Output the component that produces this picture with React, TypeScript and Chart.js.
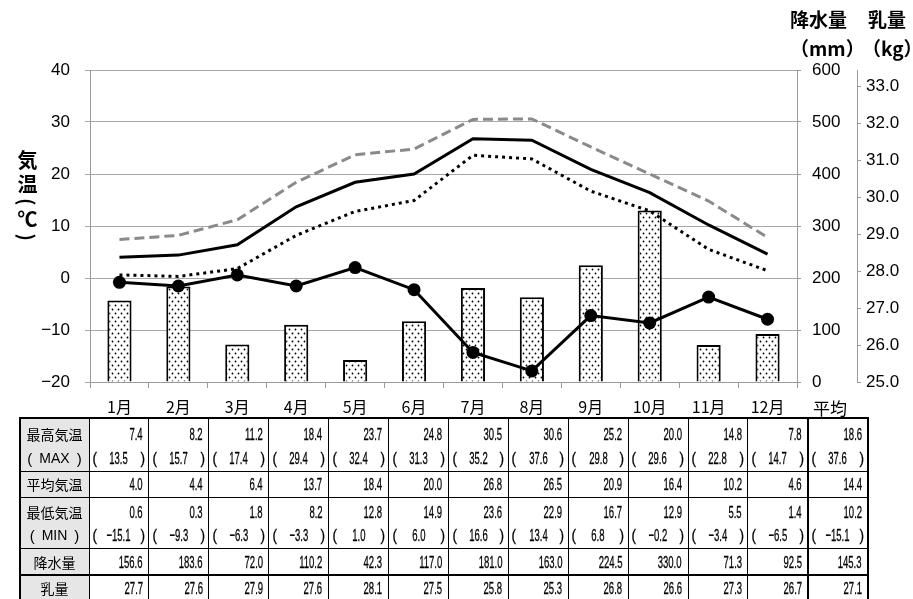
import React, { useEffect, useRef } from 'react';
import { Chart, registerables } from 'chart.js';

Chart.register(...registerables);

// ---- data ----
const months = ['1月', '2月', '3月', '4月', '5月', '6月', '7月', '8月', '9月', '10月', '11月', '12月'];
const maxTemp = [7.4, 8.2, 11.2, 18.4, 23.7, 24.8, 30.5, 30.6, 25.2, 20.0, 14.8, 7.8];
const recordMax = [13.5, 15.7, 17.4, 29.4, 32.4, 31.3, 35.2, 37.6, 29.8, 29.6, 22.8, 14.7];
const meanTemp = [4.0, 4.4, 6.4, 13.7, 18.4, 20.0, 26.8, 26.5, 20.9, 16.4, 10.2, 4.6];
const minTemp = [0.6, 0.3, 1.8, 8.2, 12.8, 14.9, 23.6, 22.9, 16.7, 12.9, 5.5, 1.4];
const recordMin = [-15.1, -9.3, -6.3, -3.3, 1.0, 6.0, 16.6, 13.4, 6.8, -0.2, -3.4, -6.5];
const precipitation = [156.6, 183.6, 72.0, 110.2, 42.3, 117.0, 181.0, 163.0, 224.5, 330.0, 71.3, 92.5];
const milkYield = [27.7, 27.6, 27.9, 27.6, 28.1, 27.5, 25.8, 25.3, 26.8, 26.6, 27.3, 26.7];

const avgMaxTemp = 18.6;
const avgRecordMax = 37.6;
const avgMeanTemp = 14.4;
const avgMinTemp = 10.2;
const avgRecordMin = -15.1;
const avgPrecipitation = 145.3;
const avgMilkYield = 27.1;

const tempTicks = [-20, -10, 0, 10, 20, 30, 40];
const precipTicks = [0, 100, 200, 300, 400, 500, 600];
const milkTicks = [25, 26, 27, 28, 29, 30, 31, 32, 33];

const rowLabels = ['最高気温', 'MAX', '平均気温', '最低気温', 'MIN', '降水量', '乳量'];
const averageLabel = '平均';

// ---- helpers ----
const minus = (v: number, d: number) => (v < 0 ? '\u2212' + Math.abs(v).toFixed(d) : v.toFixed(d));

const CJK = '"Noto Sans CJK JP", "Noto Sans CJK SC", sans-serif';
const NUM = '"Liberation Sans", Arial, sans-serif';

const colEdges: number[] = [20, 89];
for (let i = 1; i <= 12; i++) colEdges.push(89 + i * 59.9);
colEdges.push(867.8);

type Row = { label: string; values: number[]; avg: number; paren: boolean; cy: number };
const rows: Row[] = [
  { label: rowLabels[0], values: maxTemp, avg: avgMaxTemp, paren: false, cy: 434 },
  { label: rowLabels[1], values: recordMax, avg: avgRecordMax, paren: true, cy: 458 },
  { label: rowLabels[2], values: meanTemp, avg: avgMeanTemp, paren: false, cy: 484 },
  { label: rowLabels[3], values: minTemp, avg: avgMinTemp, paren: false, cy: 512 },
  { label: rowLabels[4], values: recordMin, avg: avgRecordMin, paren: true, cy: 535 },
  { label: rowLabels[5], values: precipitation, avg: avgPrecipitation, paren: false, cy: 562 },
  { label: rowLabels[6], values: milkYield, avg: avgMilkYield, paren: false, cy: 588 },
];

const hLines = [
  { y: 418, w: 2 },
  { y: 471, w: 1 },
  { y: 497, w: 1 },
  { y: 548.5, w: 1 },
  { y: 575, w: 2 },
];

const numStyle: React.CSSProperties = {
  fontFamily: NUM,
  fontSize: 17,
  lineHeight: 1,
  display: 'inline-block',
  transform: 'scaleX(0.56)',
  whiteSpace: 'nowrap',
  color: '#000',
  WebkitTextStroke: '0.3px #000',
};

function Cell({ x0, x1, cy, value, paren }: { x0: number; x1: number; cy: number; value: number; paren: boolean }) {
  const txt = minus(value, 1);
  if (paren) {
    const box: React.CSSProperties = {
      position: 'absolute',
      top: cy - 10,
      height: 20,
      display: 'flex',
      alignItems: 'center',
      justifyContent: 'center',
    };
    return (
      <>
        <div style={{ ...box, left: x0 + 2, width: 8 }}>
          <span style={{ ...numStyle, transform: 'scaleX(0.8)' }}>(</span>
        </div>
        <div style={{ ...box, left: x0 + 4, width: x1 - x0 - 8 }}>
          <span style={{ ...numStyle, transformOrigin: 'center center' }}>{txt}</span>
        </div>
        <div style={{ ...box, left: x1 - 10, width: 8 }}>
          <span style={{ ...numStyle, transform: 'scaleX(0.8)' }}>)</span>
        </div>
      </>
    );
  }
  return (
    <div
      style={{
        position: 'absolute',
        left: x0,
        width: x1 - x0 - 6,
        top: cy - 10,
        height: 20,
        display: 'flex',
        alignItems: 'center',
        justifyContent: 'flex-end',
      }}
    >
      <span style={{ ...numStyle, transformOrigin: 'right center' }}>{txt}</span>
    </div>
  );
}

export default function App() {
  const ref = useRef<HTMLCanvasElement>(null);

  useEffect(() => {
    const canvas = ref.current;
    if (!canvas) return;
    const pc = document.createElement('canvas');
    pc.width = 6;
    pc.height = 8;
    const pctx = pc.getContext('2d')!;
    pctx.fillStyle = '#ffffff';
    pctx.fillRect(0, 0, 6, 8);
    pctx.fillStyle = '#000000';
    pctx.beginPath();
    pctx.arc(1.5, 1.5, 0.9, 0, Math.PI * 2);
    pctx.fill();
    pctx.beginPath();
    pctx.arc(4.5, 5.5, 0.9, 0, Math.PI * 2);
    pctx.fill();
    const pattern = canvas.getContext('2d')!.createPattern(pc, 'repeat');

    const axisGrey = '#9a9a9a';

    const chart = new Chart(canvas, {
      type: 'bar',
      data: {
        labels: months,
        datasets: [
          {
            type: 'line',
            label: '最高気温',
            data: maxTemp,
            yAxisID: 'y',
            borderColor: '#8a8a8a',
            borderWidth: 3,
            borderDash: [10, 5],
            pointRadius: 0,
            fill: false,
            tension: 0,
            order: 2,
          },
          {
            type: 'line',
            label: '平均気温',
            data: meanTemp,
            yAxisID: 'y',
            borderColor: '#000',
            borderWidth: 3,
            pointRadius: 0,
            fill: false,
            tension: 0,
            order: 2,
          },
          {
            type: 'line',
            label: '最低気温',
            data: minTemp,
            yAxisID: 'y',
            borderColor: '#000',
            borderWidth: 3,
            borderDash: [3, 4],
            pointRadius: 0,
            fill: false,
            tension: 0,
            order: 2,
          },
          {
            type: 'line',
            label: '乳量',
            data: milkYield,
            yAxisID: 'y2',
            borderColor: '#000',
            borderWidth: 3,
            pointRadius: 6.5,
            pointBackgroundColor: '#000',
            pointBorderWidth: 0,
            fill: false,
            tension: 0,
            order: 1,
          },
          {
            type: 'bar',
            label: '降水量',
            data: precipitation,
            yAxisID: 'y1',
            backgroundColor: pattern as any,
            borderColor: '#000',
            borderWidth: 2,
            barPercentage: 0.41,
            categoryPercentage: 1,
            order: 5,
          },
        ],
      },
      options: {
        responsive: false,
        animation: false,
        devicePixelRatio: 1,
        events: [],
        layout: { padding: { top: 70, left: 0, right: 0, bottom: 0 } },
        plugins: { legend: { display: false }, tooltip: { enabled: false }, title: { display: false } },
        scales: {
          x: {
            type: 'category',
            offset: true,
            grid: { display: true, drawOnChartArea: false, drawTicks: true, tickLength: 6, color: axisGrey, offset: true },
            border: { display: true, color: axisGrey },
            ticks: { color: '#000', font: { family: CJK, size: 16 }, padding: 9, maxRotation: 0, autoSkip: false },
            afterFit: (s: any) => {
              s.height = 38;
            },
          },
          y: {
            position: 'left',
            min: -20,
            max: 40,
            afterBuildTicks: (s: any) => {
              s.ticks = tempTicks.map((v) => ({ value: v }));
            },
            grid: { color: '#a8a8a8', tickLength: 5, lineWidth: 1 },
            border: { display: true, color: axisGrey },
            ticks: {
              color: '#000',
              font: { family: NUM, size: 17 },
              padding: 15,
              callback: (v: any) => minus(Number(v), 0),
            },
            afterFit: (s: any) => {
              s.width = 90;
            },
          },
          y1: {
            position: 'right',
            min: 0,
            max: 600,
            weight: 0,
            afterBuildTicks: (s: any) => {
              s.ticks = precipTicks.map((v) => ({ value: v }));
            },
            grid: { drawOnChartArea: false, drawTicks: true, tickLength: 4, color: axisGrey },
            border: { display: true, color: axisGrey },
            ticks: { color: '#000', font: { family: NUM, size: 17 }, padding: 11, callback: (v: any) => String(v) },
            afterFit: (s: any) => {
              s.width = 60;
            },
          },
          y2: {
            position: 'right',
            min: 25,
            max: 33.45,
            weight: 1,
            afterBuildTicks: (s: any) => {
              s.ticks = milkTicks.map((v) => ({ value: v }));
            },
            grid: { drawOnChartArea: false, drawTicks: true, tickLength: 4, color: axisGrey },
            border: { display: true, color: axisGrey },
            ticks: { color: '#000', font: { family: NUM, size: 17 }, padding: 5, callback: (v: any) => Number(v).toFixed(1) },
            afterFit: (s: any) => {
              s.width = 56;
            },
          },
        },
      } as any,
    });
    return () => chart.destroy();
  }, []);

  const titleStyle: React.CSSProperties = {
    position: 'absolute',
    fontFamily: CJK,
    fontWeight: 700,
    fontSize: 19,
    lineHeight: 1,
    whiteSpace: 'nowrap',
    color: '#000',
  };

  return (
    <div
      style={{
        position: 'absolute',
        left: 0,
        top: 0,
        width: 913,
        height: 599,
        overflow: 'hidden',
        background: '#fff',
      }}
    >
      <canvas ref={ref} width={913} height={420} style={{ position: 'absolute', left: 0, top: 0 }} />

      {/* left axis title (vertical) */}
      <div
        style={{
          ...titleStyle,
          fontSize: 20,
          left: 17,
          top: 150,
          width: 20,
          writingMode: 'vertical-rl',
          letterSpacing: 4,
        }}
      >
        気温(℃)
      </div>

      {/* right axis titles */}
      <div style={{ ...titleStyle, left: 790, top: 9 }}>降水量</div>
      <div style={{ ...titleStyle, left: 790, top: 38 }}>（mm）</div>
      <div style={{ ...titleStyle, left: 868, top: 9 }}>乳量</div>
      <div style={{ ...titleStyle, left: 862, top: 38 }}>（kg）</div>

      {/* average column header */}
      <div
        style={{
          position: 'absolute',
          left: 813,
          top: 399,
          fontFamily: CJK,
          fontSize: 17,
          lineHeight: 1,
          color: '#000',
        }}
      >
        {averageLabel}
      </div>

      {/* table background for labels */}
      <div style={{ position: 'absolute', left: 20, top: 418, width: 69, height: 190, background: '#e6e6e6' }} />

      {/* horizontal lines */}
      {hLines.map((l, i) => (
        <div
          key={'h' + i}
          style={{ position: 'absolute', left: 19, top: l.y - l.w / 2, width: 850, height: l.w, background: '#000' }}
        />
      ))}

      {/* vertical lines */}
      {colEdges.map((x, i) => {
        const w = i === 0 || i === colEdges.length - 1 || i === colEdges.length - 2 ? 2 : 1;
        return (
          <div
            key={'v' + i}
            style={{ position: 'absolute', left: x - w / 2, top: 417, width: w, height: 200, background: '#000' }}
          />
        );
      })}

      {/* row labels */}
      {rows.map((r, i) => (
        <div
          key={'l' + i}
          style={{
            position: 'absolute',
            left: 20,
            width: 69,
            top: r.cy - 10,
            height: 20,
            display: 'flex',
            alignItems: 'center',
            justifyContent: 'center',
            fontFamily: CJK,
            fontSize: 14,
            lineHeight: 1,
            color: '#000',
            whiteSpace: 'nowrap',
          }}
        >
          {r.paren ? (
            <>
              <span style={{ fontFamily: NUM, fontSize: 15 }}>(</span>
              <span style={{ fontFamily: NUM, fontSize: 14, margin: '0 7px' }}>{r.label}</span>
              <span style={{ fontFamily: NUM, fontSize: 15 }}>)</span>
            </>
          ) : (
            r.label
          )}
        </div>
      ))}

      {/* values */}
      {rows.map((r, ri) => (
        <React.Fragment key={'r' + ri}>
          {r.values.map((v, ci) => (
            <Cell key={ci} x0={colEdges[ci + 1]} x1={colEdges[ci + 2]} cy={r.cy} value={v} paren={r.paren} />
          ))}
          <Cell x0={colEdges[13]} x1={colEdges[14]} cy={r.cy} value={r.avg} paren={r.paren} />
        </React.Fragment>
      ))}
    </div>
  );
}
